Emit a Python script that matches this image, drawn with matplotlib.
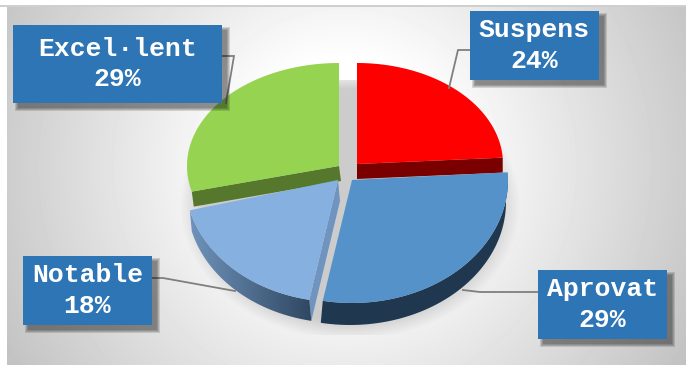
"""Exploded pseudo-3D pie of grades with callout boxes, drawn on a pixel-sized axes."""
import matplotlib

matplotlib.use("Agg")
import matplotlib.pyplot as plt
import numpy as np
from matplotlib.patches import PathPatch, Polygon, Rectangle
from matplotlib.path import Path

categories = ["Suspens", "Aprovat", "Notable", "Excel·lent"]
values = [24, 29, 18, 29]

W, H = 686, 365
# apex x, apex y, radius x, radius y, depth x, depth y (perspective makes front slices larger)
_GEOMETRY = {
    "Suspens": (357, 164, 146, 101, 0, 15),
    "Aprovat": (352, 180, 156, 123, -2, 22),
    "Notable": (338, 180, 153, 122, 2, 21),
    "Excel·lent": (339, 166, 152, 103, 2, 15),
}
_TOP = {"Suspens": "#ff0000", "Aprovat": "#5592c9", "Notable": "#85b0e0", "Excel·lent": "#95d351"}
_CUT = {"Suspens": "#7a0000", "Notable": "#6f94c0", "Excel·lent": "#55782c"}
_BOX_COLOR = "#2e75b6"
# box x0, y0, x1, y1 and leader polyline
_BOXES = {
    "Suspens": ((470, 11, 599, 80), [(470, 50), (458, 50), (449, 88)]),
    "Aprovat": ((538, 270, 667, 339), [(463, 290), (480, 292), (538, 292)]),
    "Notable": ((23, 256, 152, 325), [(152, 278), (163, 278), (235, 291)]),
    "Excel·lent": ((13, 25, 222, 103), [(222, 56), (234, 56), (226, 103)]),
}


def arc(name, start, end):
    """Points of the outer edge of a slice, angles clockwise from 12 o'clock."""
    cx, cy, rx, ry, _, _ = _GEOMETRY[name]
    t = np.radians(np.linspace(start, end, 80))
    return np.column_stack([cx + rx * np.sin(t), cy - ry * np.cos(t)])


def background(ax):
    yy, xx = np.mgrid[0:H, 0:W] + 0.5
    d = np.hypot(xx - 345, yy - 165) / 385.0
    grey = 1.0 - np.clip((d - 0.27) / 0.78, 0, 1) * 0.25
    ax.imshow(grey, cmap="gray", vmin=0, vmax=1, extent=(0, W, H, 0), zorder=0, aspect="auto")
    ax.add_patch(Rectangle((0, 0), 7, H, color="white", zorder=1, lw=0))
    ax.add_patch(Rectangle((0, 0), W, 5, color="white", zorder=1, lw=0))
    ax.add_patch(Rectangle((0, 5), W, 2, color="#cfcfcf", zorder=1, lw=0))
    # soft pie shadow, cut off flat at top and bottom like the source render
    d = np.hypot((xx - 350) / 170.0, (yy - 205) / 135.0)
    alpha = np.clip((1 - d) / 0.14, 0, 1)
    alpha[(yy < 80) | (yy > 335)] = 0
    rgba = np.dstack([np.full_like(alpha, 0.80)] * 3 + [alpha])
    ax.imshow(rgba, extent=(0, W, H, 0), zorder=2, aspect="auto")


def draw_pie(ax):
    edges = np.concatenate([[0], np.cumsum(values)]) * 3.6
    spans = {c: (edges[i], edges[i + 1]) for i, c in enumerate(categories)}

    # cut faces at the slice sides that look towards the viewer
    for name, angle in (("Suspens", spans["Suspens"][1]), ("Excel·lent", spans["Excel·lent"][0]),
                        ("Notable", spans["Notable"][0])):
        cx, cy, _, _, dx, dy = _GEOMETRY[name]
        p = arc(name, angle, angle)[0]
        ax.add_patch(Polygon([(cx, cy), p, p + (dx, dy), (cx + dx, cy + dy)],
                             color=_CUT[name], lw=0, zorder=3))

    # rims
    for name in ("Aprovat", "Notable"):
        dx, dy = _GEOMETRY[name][4:]
        a = arc(name, *spans[name])
        verts = np.vstack([a, (a + (dx, dy))[::-1], a[:1]])
        patch = Polygon(verts, closed=True, lw=0, zorder=4)
        if name == "Aprovat":
            patch.set_color("#20384f")
            ax.add_patch(patch)
        else:
            patch.set_facecolor("none")
            ax.add_patch(patch)
            ramp = np.linspace(0, 1, 256)[None, :]
            im = ax.imshow(ramp, cmap=matplotlib.colors.LinearSegmentedColormap.from_list(
                "rim", ["#6f93bb", "#2f4761"]), extent=(190, 312, 330, 200),
                zorder=4, aspect="auto")
            im.set_clip_path(patch)

    # top faces
    for name in ("Excel·lent", "Suspens", "Notable", "Aprovat"):
        cx, cy = _GEOMETRY[name][:2]
        a = arc(name, *spans[name])
        ax.add_patch(Polygon(np.vstack([[(cx, cy)], a]), color=_TOP[name], lw=0, zorder=5))


def draw_labels(ax):
    for name, value in zip(categories, values):
        (x0, y0, x1, y1), leader = _BOXES[name]
        xs, ys = zip(*leader)
        ax.plot(xs, ys, color="#7f7f7f", lw=1.3, zorder=6, solid_joinstyle="miter")
        # stacked translucent rects give the blurred drop shadow
        for grow in (3, 2, 1, 0):
            ax.add_patch(Rectangle((x0 + 5 - grow, y0 + 5 - grow), x1 - x0 + 2 * grow,
                                   y1 - y0 + 2 * grow, color="black", alpha=0.13, lw=0, zorder=7))
        ax.add_patch(Rectangle((x0, y0), x1 - x0, y1 - y0, color=_BOX_COLOR, lw=0, zorder=8))
        cx, cy = (x0 + x1) / 2, (y0 + y1) / 2
        ax.text(cx, cy - 15.5, name, ha="center", va="center", color="white", fontsize=19,
                fontweight="bold", family="Liberation Mono", zorder=9)
        ax.text(cx, cy + 15.5, f"{value}%", ha="center", va="center", color="white", fontsize=19,
                fontweight="bold", family="Liberation Mono", zorder=9)


def main():
    fig = plt.figure(figsize=(W / 100, H / 100), dpi=100)
    ax = fig.add_axes([0, 0, 1, 1])
    background(ax)
    draw_pie(ax)
    draw_labels(ax)
    ax.set_xlim(0, W)
    ax.set_ylim(H, 0)
    ax.axis("off")
    fig.savefig("out.png", dpi=100)
    plt.close(fig)


if __name__ == "__main__":
    main()
